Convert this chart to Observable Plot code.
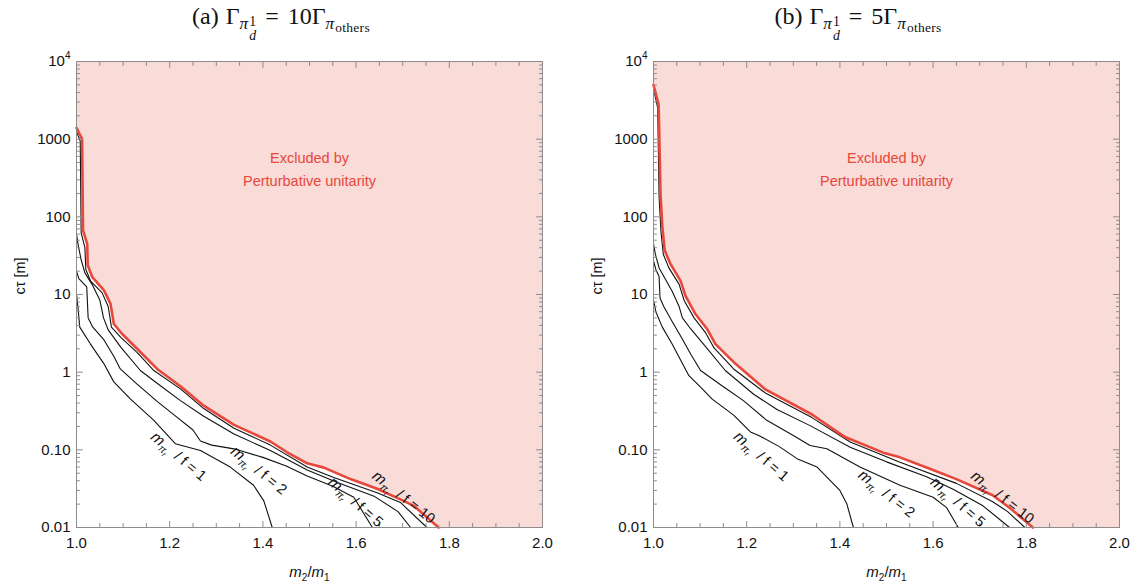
<!DOCTYPE html>
<html>
<head>
<meta charset="utf-8">
<script src="https://cdn.jsdelivr.net/npm/d3@7"></script>
<script src="https://cdn.jsdelivr.net/npm/@observablehq/plot@0.6"></script>
<style>
  body { margin: 0; background: #fff; }
  #wrap { position: relative; width: 1145px; height: 583px; overflow: hidden; background: #fff; }
  .panel { position: absolute; top: 0; width: 568px; height: 583px; }
  .title { position: absolute; top: -2px; left: 0; width: 562px; text-align: center; z-index: 2;
           font-family: "Liberation Serif", "DejaVu Serif", serif; font-size: 24px; color: #111; line-height: 36px; white-space: nowrap; }
  .s1 { font-size: 0.72em; position: relative; top: 0.3em; }
  .s2 { font-size: 0.78em; position: relative; top: 0.2em; margin-left: 1px; letter-spacing: 0.3px; }
  .stk { display: inline-flex; flex-direction: column; font-size: 0.8em; line-height: 0.95; vertical-align: 0.2em; margin-left: 1px; }
  .eq { margin: 0 9px; }
  .lbl { margin-right: 7px; }
</style>
</head>
<body>
<div id="wrap">
  <div class="panel" id="pa" style="left:0px">
    <div class="title"><span class="lbl">(a)</span>Γ<span class="s1"><i>π</i><span class="stk"><span>1</span><span><i>d</i></span></span></span><span class="eq">=</span>10Γ<span class="s1"><i>π</i><span class="s2">others</span></span></div>
  </div>
  <div class="panel" id="pb" style="left:577px">
    <div class="title"><span class="lbl">(b)</span>Γ<span class="s1"><i>π</i><span class="stk"><span>1</span><span><i>d</i></span></span></span><span class="eq">=</span>5Γ<span class="s1"><i>π</i><span class="s2">others</span></span></div>
  </div>
</div>
<script>
// ---------- Data (m2/m1, c tau [m]) ----------
// Panel (a): Gamma = 10 Gamma_others
const redA = [[1.000,1400],[1.012,1000],[1.014,67],[1.023,45],[1.024,24],[1.034,16.7],[1.059,11.3],[1.073,7.6],[1.080,4.2],[1.098,3.1],[1.130,2.0],[1.173,1.1],[1.223,0.66],[1.273,0.37],[1.338,0.21],[1.416,0.128],[1.452,0.093],[1.495,0.067],[1.531,0.059],[1.588,0.042],[1.645,0.0315],[1.702,0.022],[1.724,0.019],[1.777,0.010]];
const f10A = [[1.000,1250],[1.008,950],[1.010,62],[1.018,40],[1.020,21],[1.030,15],[1.055,10.5],[1.068,7],[1.075,3.8],[1.095,2.8],[1.130,1.8],[1.166,1.05],[1.223,0.61],[1.273,0.34],[1.338,0.19],[1.416,0.115],[1.495,0.060],[1.552,0.044],[1.645,0.028],[1.695,0.021],[1.752,0.010]];
const f5A  = [[1.000,60],[1.004,42],[1.010,28],[1.018,19],[1.035,13],[1.050,8.5],[1.058,5],[1.068,3.5],[1.095,2.1],[1.137,1.05],[1.173,0.72],[1.223,0.43],[1.273,0.27],[1.338,0.16],[1.416,0.098],[1.495,0.055],[1.560,0.038],[1.640,0.025],[1.690,0.016],[1.717,0.010]];
const f2A  = [[1.000,20],[1.005,16],[1.022,12.5],[1.025,5],[1.035,3.8],[1.059,2.6],[1.080,1.6],[1.094,1.1],[1.130,0.7],[1.173,0.42],[1.210,0.28],[1.250,0.18],[1.266,0.13],[1.290,0.115],[1.338,0.103],[1.400,0.080],[1.450,0.062],[1.495,0.046],[1.550,0.034],[1.595,0.0245],[1.635,0.010]];
const f1A  = [[1.000,10.2],[1.004,6],[1.007,3.8],[1.030,2.3],[1.059,1.28],[1.080,0.75],[1.116,0.45],[1.166,0.24],[1.212,0.12],[1.266,0.098],[1.330,0.060],[1.380,0.035],[1.402,0.022],[1.420,0.010]];
// Panel (b): Gamma = 5 Gamma_others
const redB = [[1.000,5000],[1.011,2800],[1.015,200],[1.019,74],[1.024,37],[1.036,25],[1.058,15],[1.069,9.5],[1.090,5.6],[1.115,3.6],[1.133,2.3],[1.176,1.28],[1.240,0.60],[1.340,0.285],[1.411,0.146],[1.493,0.092],[1.529,0.080],[1.590,0.058],[1.650,0.042],[1.728,0.026],[1.764,0.018],[1.814,0.010]];
const f10B = [[1.000,4500],[1.009,2500],[1.012,180],[1.016,65],[1.021,33],[1.033,22],[1.055,13.5],[1.066,8.3],[1.087,5.0],[1.112,3.2],[1.130,2.05],[1.172,1.1],[1.240,0.54],[1.340,0.26],[1.422,0.126],[1.529,0.069],[1.650,0.037],[1.728,0.0215],[1.760,0.016],[1.797,0.010]];
const f5B  = [[1.000,45],[1.004,33],[1.012,22],[1.025,16],[1.040,11],[1.055,7],[1.062,5],[1.080,3.6],[1.110,2.2],[1.154,1.05],[1.215,0.52],[1.265,0.33],[1.336,0.205],[1.422,0.108],[1.500,0.070],[1.586,0.045],[1.643,0.031],[1.707,0.019],[1.764,0.010]];
const f2B  = [[1.000,27],[1.005,21],[1.012,17],[1.014,9],[1.022,7],[1.040,4.5],[1.060,2.8],[1.080,1.7],[1.101,1.05],[1.150,0.65],[1.193,0.43],[1.243,0.24],[1.300,0.153],[1.336,0.114],[1.372,0.103],[1.443,0.060],[1.529,0.035],[1.600,0.0245],[1.629,0.018],[1.654,0.010]];
const f1B  = [[1.000,8.5],[1.005,6],[1.019,3.8],[1.040,2.3],[1.076,0.9],[1.101,0.64],[1.126,0.45],[1.172,0.28],[1.208,0.17],[1.226,0.153],[1.270,0.11],[1.308,0.077],[1.351,0.060],[1.400,0.030],[1.415,0.020],[1.429,0.010]];

// Contour label values and their anchor points (m2/m1, c tau, angle)
const fValues = ["1", "2", "5", "10"];
const labelPosA = [[1.219,0.082,40],[1.391,0.054,39],[1.599,0.0212,41],[1.702,0.0245,38]];
const labelPosB = [[1.231,0.082,41],[1.500,0.0272,38],[1.653,0.0212,41],[1.749,0.0245,38]];

// Axis ticks
const xMajor = [1.0, 1.2, 1.4, 1.6, 1.8, 2.0];
const xMinor = [1.05,1.1,1.15,1.25,1.3,1.35,1.45,1.5,1.55,1.65,1.7,1.75,1.85,1.9,1.95];
const yMajor = [0.01, 0.1, 1, 10, 100, 1000, 10000];
const yTickLabels = ["0.01", "0.10", "1", "10", "100", "1000", "10^4"];
const yMinor = yMajor.slice(0, -1).flatMap(d => [2,3,4,5,6,7,8,9].map(k => k * d));

const excludedText = "Excluded by\nPerturbative unitarity";

// ---------- Styles ----------
const PINK = "#f9dbd8";
const RED = "#e8473b";
const FRAME = "#8c8c8c";
const INK = "#111";

const tickShape = {draw(ctx, l) { ctx.moveTo(0, 0); ctx.lineTo(0, -l); }};
function ticks(values, ch, anchor, rotate, length) {
  return Plot.vector(values, {[ch]: d => d, frameAnchor: anchor, rotate, length, anchor: "start",
    shape: tickShape, stroke: FRAME, strokeWidth: 1});
}

function makePanel(red, curves, labelPos) {
  const last = red[red.length - 1];
  const fill = [...red, [2.0, last[1]]];
  const labels = labelPos.map((p, i) => ({m: p[0], ct: p[1], rot: p[2], f: fValues[i]}));
  const plot = Plot.plot({
    width: 568, height: 583,
    marginLeft: 76, marginRight: 26, marginTop: 61, marginBottom: 56,
    x: {domain: [1, 2]},
    y: {type: "log", domain: [0.01, 10000]},
    style: {fontFamily: "'Liberation Sans', Arimo, Arial, sans-serif", fontSize: "15px", color: INK, background: "transparent", overflow: "visible"},
    marks: [
      Plot.areaY(fill, {x: d => d[0], y1: d => d[1], y2: 10000, fill: PINK}),
      ...curves.map(c => Plot.line(c, {x: d => d[0], y: d => d[1], stroke: INK, strokeWidth: 1.1})),
      Plot.line(red, {x: d => d[0], y: d => d[1], stroke: RED, strokeWidth: 2.6}),
      Plot.frame({stroke: FRAME, strokeWidth: 1}),
      ticks(yMajor, "y", "left", 90, 6),
      ticks(yMinor, "y", "left", 90, 3),
      ticks(yMajor, "y", "right", -90, 6),
      ticks(yMinor, "y", "right", -90, 3),
      ticks(xMajor, "x", "bottom", 0, 6),
      ticks(xMinor, "x", "bottom", 0, 4),
      ticks(xMajor, "x", "top", 180, 6),
      ticks(xMinor, "x", "top", 180, 4),
      Plot.axisX(xMajor, {tickSize: 0, tickPadding: 10, tickFormat: d => d.toFixed(1), label: null, fontSize: 15}),
      Plot.axisY(yMajor, {tickSize: 0, tickPadding: 6, tickFormat: d => yTickLabels[yMajor.indexOf(d)], label: null, fontSize: 15}),
      Plot.text([excludedText], {text: d => d, frameAnchor: "top", dy: 86, lineHeight: 1.55, fill: RED, fontSize: 14.5}),
      Plot.text(labels, {x: "m", y: "ct", rotate: "rot", text: d => "§F" + d.f, fill: INK, fontSize: 14.5}),
      Plot.text(["§X"], {text: d => d, frameAnchor: "bottom", lineAnchor: "middle", dy: 45, fill: INK, fontSize: 15}),
      Plot.text(["cτ [m]"], {text: d => d, frameAnchor: "left", rotate: -90, dx: -56, fill: INK, fontSize: 14.5})
    ]
  });
  decorate(plot);
  return plot;
}

const NS = "http://www.w3.org/2000/svg";
function ts(parent, txt, attrs = {}) {
  const e = document.createElementNS(NS, "tspan");
  for (const k in attrs) e.setAttribute(k, attrs[k]);
  e.textContent = txt;
  parent.appendChild(e);
  return e;
}
function decorate(svg) {
  svg.querySelectorAll("text").forEach(t => {
    const s = t.textContent;
    if (s === "10^4") {
      t.textContent = "";
      ts(t, "10");
      ts(t, "4", {"font-size": "10px", dy: "-7"});
    } else if (s.startsWith("§F")) {
      const n = s.slice(2);
      t.textContent = "";
      ts(t, "m", {"font-style": "italic", "font-size": "15.5px"});
      ts(t, "π", {"font-size": "10.5px", dy: "3.5", "font-style": "italic"});
      ts(t, "r", {"font-size": "7.5px", dy: "2", "font-style": "italic"});
      ts(t, "  / f = " + n, {dy: "-5.5", "font-size": "14.5px"});
    } else if (s === "§X") {
      t.textContent = "";
      ts(t, "m", {"font-style": "italic"});
      ts(t, "2", {"font-size": "10px", dy: "4"});
      ts(t, "/", {dy: "-4"});
      ts(t, "m", {"font-style": "italic"});
      ts(t, "1", {"font-size": "10px", dy: "4"});
    }
  });
}

document.getElementById("pa").appendChild(makePanel(redA, [f1A, f2A, f5A, f10A], labelPosA));
document.getElementById("pb").appendChild(makePanel(redB, [f1B, f2B, f5B, f10B], labelPosB));
</script>
</body>
</html>
